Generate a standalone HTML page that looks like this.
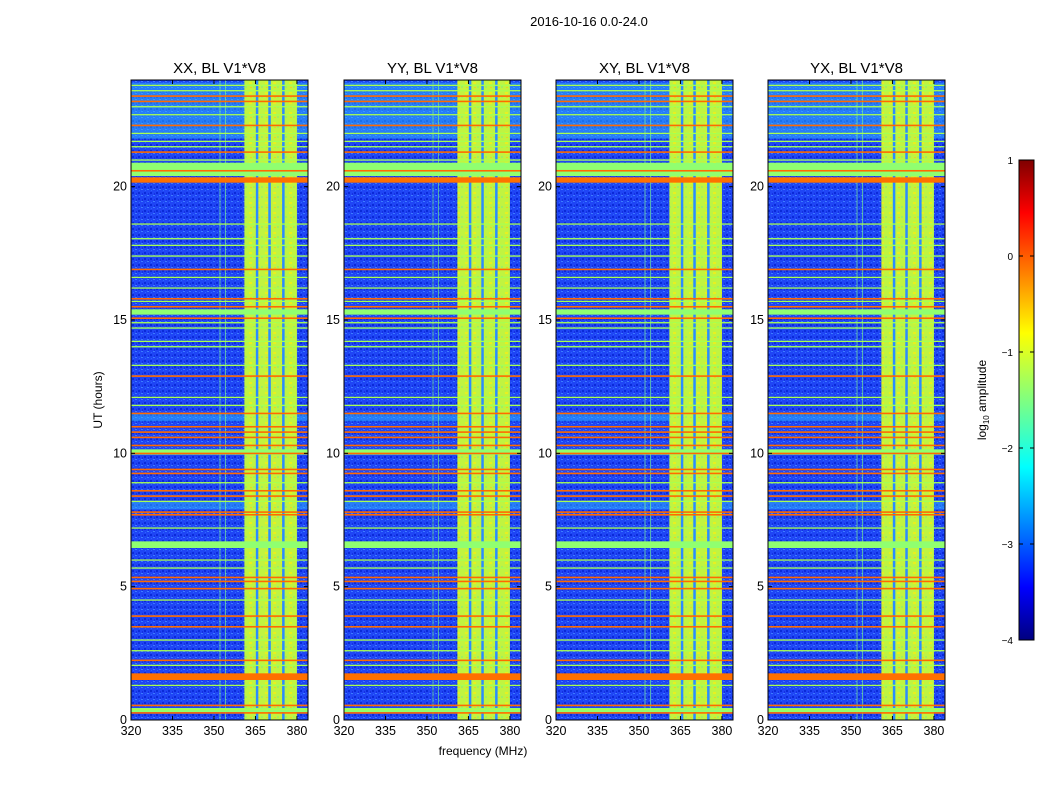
<!DOCTYPE html>
<html><head><meta charset="utf-8"><style>
body{margin:0;background:#fff;font-family:"Liberation Sans",sans-serif}
svg text{font-family:"Liberation Sans",sans-serif}
</style></head><body>
<svg id="c" width="1050" height="800" xmlns="http://www.w3.org/2000/svg">
<defs>
<linearGradient id="jet" x1="0" y1="1" x2="0" y2="0">
<stop offset="0" stop-color="#00007f"/><stop offset="0.11" stop-color="#0000ff"/><stop offset="0.36" stop-color="#00ffff"/><stop offset="0.5" stop-color="#80ff80"/><stop offset="0.64" stop-color="#ffff00"/><stop offset="0.89" stop-color="#ff0000"/><stop offset="1" stop-color="#7f0000"/>
</linearGradient>
<pattern id="noise" width="6" height="6" patternUnits="userSpaceOnUse">
<rect width="6" height="6" fill="#1f45f5"/><rect x="0" y="0" width="2" height="2" fill="#0a2ad8"/><rect x="3" y="3" width="2" height="1" fill="#3c7cff"/><rect x="4" y="1" width="1" height="2" fill="#1530e0"/><rect x="1" y="4" width="1" height="1" fill="#2a66ff"/>
</pattern>
<pattern id="bandtex" width="8" height="10" patternUnits="userSpaceOnUse">
<rect width="8" height="10" fill="#c0f440"/><rect x="1" y="2" width="3" height="2" fill="#e8f020"/><rect x="5" y="6" width="2" height="2" fill="#a0f060"/><rect x="2" y="7" width="2" height="1" fill="#f0d020"/>
</pattern>
</defs>
<text x="589" y="26" font-size="13" text-anchor="middle">2016-10-16 0.0-24.0</text>
</svg>
<script>
const panels=["XX, BL V1*V8","YY, BL V1*V8","XY, BL V1*V8","YX, BL V1*V8"];
const panelLefts=[131,344,556,768];
const freqTicks=[320,335,350,365,380];
const hourTicks=[0,5,10,15,20];
const bandStartMHz=[361,361,361,361];
const bandEndMHz=380;
const bandGapsMHz=[365.5,370,375];
const rfiVerticalMHz=[352,354];
const orangeLines=[23.4,23.2,22.3,21.3,20.6,16.9,15.8,15.5,15.07,12.9,11.5,11.0,10.8,10.6,10.3,10.0,9.4,9.25,8.6,8.4,7.8,7.7,5.35,5.2,4.93,3.9,3.5,2.24,0.55,0.27];
const greenLines=[23.8,23.6,23.0,22.7,22.0,21.7,21.5,21.0,18.6,18.05,17.8,17.4,16.6,16.2,15.7,14.9,14.7,14.2,14.0,13.3,12.1,11.8,8.9,8.2,7.2,6.0,5.7,4.5,3.0,2.6,2.05,1.3,0.4];
const thickOrange=[[1.5,1.75],[20.15,20.35]];
const greenBands=[[20.4,20.9],[15.2,15.4],[9.95,10.15],[6.45,6.7],[0.3,0.45]];
const cyanBands=[[11.2,11.5],[7.9,8.2],[21.8,23.9]];
const svg=document.getElementById('c');const NS="http://www.w3.org/2000/svg";
const W=177,TOP=80,BOT=720;
function yS(h){return BOT-(h/24)*(BOT-TOP);}
function xS(f,l){return l+(f-320)*(W/64);}
function el(t,a,p){const e=document.createElementNS(NS,t);for(const k in a)e.setAttribute(k,a[k]);(p||svg).appendChild(e);return e;}
panels.forEach((name,pi)=>{
 const L=panelLefts[pi];
 const g=el('g',{});
 
 
 el('rect',{x:L,y:TOP,width:W,height:BOT-TOP,fill:'url(#noise)'},g);
 cyanBands.forEach(b=>{el('rect',{x:L,y:yS(b[1]),width:W,height:yS(b[0])-yS(b[1]),fill:'#30c0ff',opacity:0.45},g);});
 const bx=xS(bandStartMHz[pi],L),bw=xS(bandEndMHz,L)-bx;
 const band=el('rect',{x:bx,y:TOP,width:bw,height:BOT-TOP,fill:'url(#bandtex)'},g);
 
 
 bandGapsMHz.forEach(f=>{el('rect',{x:xS(f,L)-1,y:TOP,width:2.5,height:BOT-TOP,fill:'#2a8cff'},g);});
 rfiVerticalMHz.forEach(f=>{el('rect',{x:xS(f,L),y:TOP,width:1,height:BOT-TOP,fill:'#80ff80',opacity:0.6},g);});
 greenBands.forEach(b=>{el('rect',{x:L,y:yS(b[1]),width:W,height:yS(b[0])-yS(b[1]),fill:'#90ff70'},g);});
 greenLines.forEach(h=>{el('rect',{x:L,y:yS(h)-0.6,width:W,height:1.3,fill:'#a8ff50'},g);});
 orangeLines.forEach(h=>{el('rect',{x:L,y:yS(h)-0.7,width:W,height:1.6,fill:'#ff6a00'},g);});
 thickOrange.forEach(b=>{el('rect',{x:L,y:yS(b[1]),width:W,height:yS(b[0])-yS(b[1]),fill:'#ff7000'},g);});
 el('rect',{x:L,y:TOP,width:W,height:BOT-TOP,fill:'none',stroke:'#000','stroke-width':1},g);
 const t=el('text',{x:L+W/2,y:73,'font-size':15,'text-anchor':'middle'});t.textContent=name;
 
 
 freqTicks.forEach(f=>{const x=xS(f,L);el('line',{x1:x,x2:x,y1:BOT,y2:BOT-4,stroke:'#000'});el('line',{x1:x,x2:x,y1:TOP,y2:TOP+4,stroke:'#000'});
  const tx=el('text',{x:x,y:BOT+15,'font-size':12.5,'text-anchor':'middle'});tx.textContent=f;
  
  });
 hourTicks.forEach(h=>{const y=yS(h);el('line',{x1:L,x2:L+4,y1:y,y2:y,stroke:'#000'});el('line',{x1:L+W,x2:L+W-4,y1:y,y2:y,stroke:'#000'});
  const ty=el('text',{x:L-4,y:y+4,'font-size':12.5,'text-anchor':'end'});ty.textContent=h;
  
  });
});
let t=el('text',{x:483,y:755,'font-size':12,'text-anchor':'middle'});t.textContent='frequency (MHz)';


t=el('text',{x:102,y:400,'font-size':12,'text-anchor':'middle',transform:'rotate(-90 102 400)'});t.textContent='UT (hours)';


const cbTicks=[-4,-3,-2,-1,0,1];
const cb=el('rect',{x:1019,y:160,width:15,height:480,fill:'url(#jet)',stroke:'#000'});


cbTicks.forEach(v=>{const y=640-(v+4)/5*480;el('line',{x1:1019,x2:1023,y1:y,y2:y,stroke:'#000'});el('line',{x1:1034,x2:1030,y1:y,y2:y,stroke:'#000'});
 const tt=el('text',{x:1013,y:y+4,'font-size':10,'text-anchor':'end'});tt.textContent=(v<0?'\u2212'+(-v):v);
 
 });
t=el('text',{x:986,y:400,'font-size':12,'text-anchor':'middle',transform:'rotate(-90 986 400)'});t.innerHTML='log<tspan font-size="8" dy="3">10</tspan><tspan dy="-3"> amplitude</tspan>';


</script>
</body></html>
